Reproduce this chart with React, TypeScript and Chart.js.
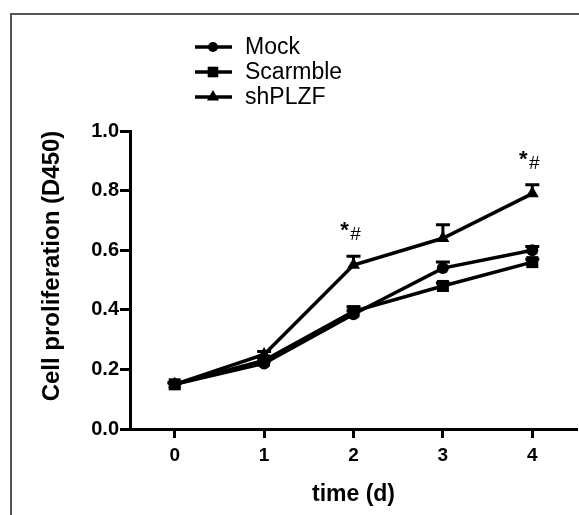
import React, { useEffect, useRef } from "react";
import { Chart, registerables } from "chart.js";

Chart.register(...registerables);

const days = [0, 1, 2, 3, 4];
const seriesNames = ["Mock", "Scarmble", "shPLZF"];
const mockMean = [0.15, 0.22, 0.385, 0.54, 0.6];
const mockErr = [0.005, 0.008, 0.012, 0.02, 0.012];
const scrambleMean = [0.15, 0.23, 0.395, 0.48, 0.56];
const scrambleErr = [0.005, 0.008, 0.015, 0.01, 0.01];
const shMean = [0.15, 0.25, 0.55, 0.64, 0.79];
const shErr = [0.005, 0.01, 0.03, 0.045, 0.03];
const yTicks = [0, 0.2, 0.4, 0.6, 0.8, 1.0];
const xTicks = [0, 1, 2, 3, 4];
const sigDays = [2, 4];
const sigStar = "*";
const sigHash = "#";
const xTitle = "time (d)";
const yTitle = "Cell proliferation (D450)";

const FONT = "'Liberation Sans', Arial, Helvetica, sans-serif";

export default function App() {
  const ref = useRef<HTMLCanvasElement | null>(null);

  useEffect(() => {
    const canvas = ref.current;
    if (!canvas) return;
    const means = [mockMean, scrambleMean, shMean];
    const errs = [mockErr, scrambleErr, shErr];
    const styles: any[] = [
      { pointStyle: "circle", radius: 6, legendR: 5 },
      { pointStyle: "rect", radius: 8.5, legendR: 7.5 },
      { pointStyle: "triangle", radius: 7.5, legendR: 7 },
    ];

    function drawMarker(ctx: CanvasRenderingContext2D, style: string, x: number, y: number, r: number) {
      ctx.beginPath();
      if (style === "circle") {
        ctx.arc(x, y, r, 0, Math.PI * 2);
      } else if (style === "rect") {
        const s = r * Math.SQRT1_2;
        ctx.rect(x - s, y - s, 2 * s, 2 * s);
      } else {
        ctx.moveTo(x, y - r);
        ctx.lineTo(x + r * Math.cos(Math.PI / 6), y + r * 0.5);
        ctx.lineTo(x - r * Math.cos(Math.PI / 6), y + r * 0.5);
        ctx.closePath();
      }
      ctx.fill();
    }

    const framePlugin = {
      id: "frame",
      beforeDraw(chart: any) {
        const ctx = chart.ctx;
        ctx.save();
        ctx.fillStyle = "#ffffff";
        ctx.fillRect(0, 0, chart.width, chart.height);
        ctx.strokeStyle = "#555555";
        ctx.lineWidth = 2;
        ctx.strokeRect(11, 14, 700, 700);
        // y axis title
        const area = chart.chartArea;
        ctx.fillStyle = "#000";
        ctx.font = `bold 24px ${FONT}`;
        ctx.textAlign = "center";
        ctx.textBaseline = "middle";
        ctx.translate(52, (area.top + area.bottom) / 2 - 14);
        ctx.rotate(-Math.PI / 2);
        ctx.fillText(yTitle, 0, 0);
        ctx.restore();
      },
    };

    const errorPlugin = {
      id: "errbars",
      afterDatasetsDraw(chart: any) {
        const ctx = chart.ctx;
        const xs = chart.scales.x;
        const ys = chart.scales.y;
        ctx.save();
        ctx.strokeStyle = "#000";
        ctx.lineWidth = 3;
        means.forEach((m, si) => {
          m.forEach((v, i) => {
            const e = errs[si][i];
            const x = xs.getPixelForValue(days[i]);
            const y0 = ys.getPixelForValue(v);
            const y1 = ys.getPixelForValue(v + e);
            ctx.beginPath();
            ctx.moveTo(x, y0);
            ctx.lineTo(x, y1);
            ctx.moveTo(x - 7, y1);
            ctx.lineTo(x + 7, y1);
            ctx.stroke();
          });
        });
        ctx.fillStyle = "#000";
        sigDays.forEach((d) => {
          const i = days.indexOf(d);
          const x = xs.getPixelForValue(d);
          const top = ys.getPixelForValue(shMean[i] + shErr[i]);
          ctx.textAlign = "center";
          ctx.textBaseline = "middle";
          ctx.font = `bold 22px ${FONT}`;
          ctx.fillText(sigStar, x - 9, top - 25);
          ctx.font = `19px ${FONT}`;
          ctx.fillText(sigHash, x + 2, top - 21);
        });
        ctx.restore();
      },
    };

    const legendPlugin = {
      id: "customLegend",
      afterDraw(chart: any) {
        const ctx = chart.ctx;
        ctx.save();
        const rowsY = [47, 72, 97];
        seriesNames.forEach((name, i) => {
          const y = rowsY[i];
          ctx.strokeStyle = "#000";
          ctx.fillStyle = "#000";
          ctx.lineWidth = 3.5;
          ctx.beginPath();
          ctx.moveTo(195, y);
          ctx.lineTo(232, y);
          ctx.stroke();
          const st = styles[i];
          drawMarker(ctx, st.pointStyle, 213, y, st.legendR);
          ctx.font = `23px ${FONT}`;
          ctx.textAlign = "left";
          ctx.textBaseline = "middle";
          ctx.fillText(name, 245, y + 1);
        });
        ctx.restore();
      },
    };

    const datasets = means.map((m, si) => ({
      label: seriesNames[si],
      data: m.map((v, i) => ({ x: days[i], y: v })),
      borderColor: "#000",
      backgroundColor: "#000",
      borderWidth: 3.5,
      pointStyle: styles[si].pointStyle,
      pointRadius: styles[si].radius,
      pointBackgroundColor: "#000",
      pointBorderColor: "#000",
      pointBorderWidth: 0,
      tension: 0,
      order: si === 1 ? 0 : si === 0 ? 1 : 2,
    }));

    const chart = new Chart(canvas, {
      type: "line",
      data: { datasets },
      options: {
        animation: false,
        responsive: false,
        devicePixelRatio: 1,
        layout: { autoPadding: false, padding: { top: 131, right: 2, left: 0, bottom: 0 } },
        plugins: {
          legend: { display: false },
          tooltip: { enabled: false },
        },
        scales: {
          x: {
            type: "linear",
            min: -0.5,
            max: 4.5,
            afterBuildTicks: (s: any) => {
              s.ticks = xTicks.map((v) => ({ value: v }));
            },
            afterFit: (s: any) => {
              s.height = 86;
            },
            grid: {
              drawOnChartArea: false,
              drawTicks: true,
              tickLength: 9,
              tickWidth: 3,
              tickColor: "#000",
            },
            border: { display: true, color: "#000", width: 3 },
            ticks: {
              color: "#000",
              font: { family: FONT, size: 19, weight: "bold" },
              padding: 6,
              maxRotation: 0,
              callback: (v: any) => String(v),
            },
            title: {
              display: true,
              text: xTitle,
              color: "#000",
              font: { family: FONT, size: 23, weight: "bold" },
              padding: { top: 0, bottom: 7 },
            },
          },
          y: {
            type: "linear",
            min: 0,
            max: 1,
            afterBuildTicks: (s: any) => {
              s.ticks = yTicks.map((v) => ({ value: v }));
            },
            afterFit: (s: any) => {
              s.width = 130;
            },
            grid: {
              drawOnChartArea: false,
              drawTicks: true,
              tickLength: 10,
              tickWidth: 3,
              tickColor: "#000",
            },
            border: { display: true, color: "#000", width: 3 },
            ticks: {
              color: "#000",
              font: { family: FONT, size: 20, weight: "bold" },
              padding: 1,
              callback: (v: any) => Number(v).toFixed(1),
            },
            title: { display: false },
          },
        },
      },
      plugins: [framePlugin, errorPlugin, legendPlugin],
    });
    return () => chart.destroy();
  }, []);

  return (
    <div style={{ position: "fixed", left: 0, top: 0, width: 579, height: 515, background: "#fff" }}>
      <canvas ref={ref} width={579} height={515} style={{ display: "block", width: 579, height: 515 }} />
    </div>
  );
}
